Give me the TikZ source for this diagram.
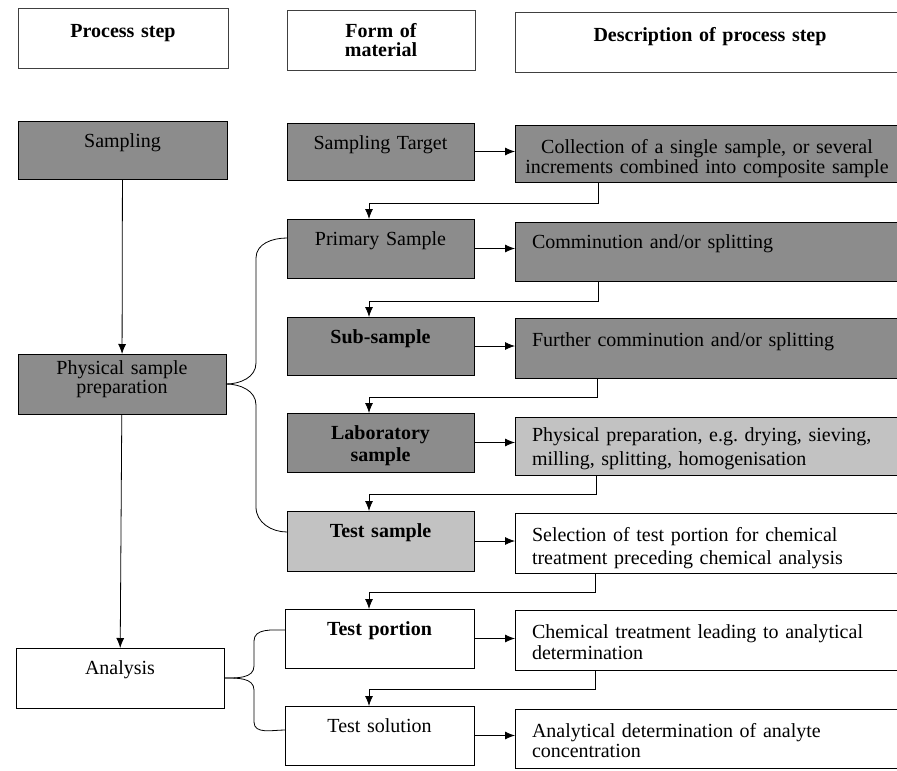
\documentclass[tikz,border=0pt]{standalone}
\usepackage{fontspec}
\setmainfont{Liberation Serif}
\usepackage{tikz}
\usetikzlibrary{arrows.meta}

\definecolor{darkfill}{gray}{0.55}
\definecolor{lightfill}{gray}{0.76}

\tikzset{
  box/.style={draw, line width=0.9pt, anchor=north west, inner ysep=0pt, inner xsep=4pt,
    outer sep=0pt, align=center, text height=26pt, font=\fontsize{20pt}{22pt}\selectfont},
  headbox/.style={box, draw=black!75, font=\fontsize{20pt}{20pt}\selectfont\bfseries},
  darkbox/.style={box, fill=darkfill},
  lightbox/.style={box, fill=lightfill},
  descbox/.style={align=left, inner xsep=17pt, text width=370pt},
  flow/.style={line width=0.8pt, -{Latex[length=10pt,width=8pt]}},
  link/.style={line width=0.8pt},
}

\begin{document}
\frenchspacing
\begin{tikzpicture}[x=1pt,y=-1pt]
    \useasboundingbox (0,0) rectangle (897,771);
    \clip (0,0) rectangle (897,771);

    % headings
    \node[headbox, text width=202pt, text height=29pt, text depth=31pt] (hps) at (18,8) {Process step};
    \node[headbox, text width=180pt, text height=27pt, text depth=33pt] (hfm) at (287,10) {Form of\\material};
    \node[headbox, text width=382pt, text height=29pt, text depth=31pt] (hdp) at (515,12) {Description of process step};

    % process steps
    \node[darkbox, text width=201pt, text depth=32pt] (samp) at (18,121) {Sampling};
    \node[darkbox, text width=200pt, text height=20pt, text depth=40pt,
          font=\fontsize{20pt}{19pt}\selectfont] (psp) at (18,354) {Physical sample\\preparation};
    \node[box, text width=200pt, text depth=34pt] (ana) at (16,648) {Analysis};

    % forms of material
    \node[darkbox, text width=179pt, text depth=31pt] (st) at (287,123) {Sampling Target};
    \node[darkbox, text width=179pt, text depth=33pt] (ps) at (287,219) {Primary Sample};
    \node[darkbox, text width=179pt, text depth=32pt, font=\fontsize{20pt}{22pt}\selectfont\bfseries] (ss) at (287,317) {Sub-sample};
    \node[darkbox, text width=179pt, text depth=33pt, font=\fontsize{20pt}{22pt}\selectfont\bfseries] (ls) at (287,413) {Laboratory\\sample};
    \node[lightbox, text width=179pt, text depth=34pt, font=\fontsize{20pt}{22pt}\selectfont\bfseries] (ts) at (287,511) {Test sample};
    \node[box, text width=181pt, text depth=33pt, font=\fontsize{20pt}{22pt}\selectfont\bfseries] (tp) at (285,609) {Test portion};
    \node[box, text width=181pt, text depth=33pt] (tsol) at (285,706) {Test solution};

    % descriptions
    \node[darkbox, text width=376pt, text height=28pt, text depth=29pt,
          font=\fontsize{20pt}{20pt}\selectfont] (d1) at (515,125)
          {Collection of a single sample, or several\\increments combined into composite sample};
    \node[darkbox, descbox, text depth=33pt] (d2) at (515,222) {Comminution and/or splitting};
    \node[darkbox, descbox, text height=28pt, text depth=32pt] (d3) at (515,318) {Further comminution and/or splitting};
    \node[lightbox, descbox, text height=24pt, text depth=34pt,
          font=\fontsize{20pt}{24pt}\selectfont] (d4) at (515,417)
          {Physical preparation, e.g. drying, sieving,\\milling, splitting, homogenisation};
    \node[box, descbox, text height=28pt, text depth=32pt,
          font=\fontsize{20pt}{23pt}\selectfont] (d5) at (515,513)
          {Selection of test portion for chemical\\treatment preceding chemical analysis};
    \node[box, descbox, text height=28pt, text depth=32pt,
          font=\fontsize{20pt}{21pt}\selectfont] (d6) at (515,610)
          {Chemical treatment leading to analytical\\determination};
    \node[box, descbox, text height=28pt, text depth=31pt,
          font=\fontsize{20pt}{20pt}\selectfont] (d7) at (515,709)
          {Analytical determination of analyte\\concentration};

    % left column
    \draw[flow] (samp) -- (psp);
    \draw[flow] (psp) -- (ana);

    % material to description
    \draw[flow] (st.east) -- (st.east -| d1.west);
    \draw[flow] (ps.east) -- (ps.east -| d2.west);
    \draw[flow] (ss.east) -- (ss.east -| d3.west);
    \draw[flow] (ls.east) -- (ls.east -| d4.west);
    \draw[flow] (ts.east) -- (ts.east -| d5.west);
    \draw[flow] (tp.east) -- (tp.east -| d6.west);
    \draw[flow] (tsol.east) -- (tsol.east -| d7.west);

    % description back to next material
    \draw[flow] ([xshift=83pt]d1.south west) |- ([xshift=82pt,yshift=16pt]ps.north west) -- ([xshift=82pt]ps.north west);
    \draw[flow] ([xshift=83pt]d2.south west) |- ([xshift=82pt,yshift=16pt]ss.north west) -- ([xshift=82pt]ss.north west);
    \draw[flow] ([xshift=82pt]d3.south west) |- ([xshift=82pt,yshift=16pt]ls.north west) -- ([xshift=82pt]ls.north west);
    \draw[flow] ([xshift=81pt]d4.south west) |- ([xshift=82pt,yshift=17pt]ts.north west) -- ([xshift=82pt]ts.north west);
    \draw[flow] ([xshift=80pt]d5.south west) |- ([xshift=84pt,yshift=17pt]tp.north west) -- ([xshift=84pt]tp.north west);
    \draw[flow] ([xshift=80pt]d6.south west) |- ([xshift=84pt,yshift=17pt]tsol.north west) -- ([xshift=84pt]tsol.north west);

    % braces
    \draw[link] (psp.east) to[out=0,in=-90] ([xshift=30pt,yshift=21pt]psp.east)
        -- ([xshift=-31pt,yshift=-39pt]ps.north west) to[out=90,in=180] ([yshift=-19pt]ps.north west);
    \draw[link] (psp.east) to[out=0,in=90] ([xshift=30pt,yshift=-21pt]psp.east)
        -- ([xshift=-31pt,yshift=4pt]ts.north west) to[out=-90,in=180] ([yshift=-21pt]ts.north west);
    \draw[link] (ana.east) to[out=0,in=-90] ([xshift=30pt,yshift=12pt]ana.east)
        -- ([xshift=-31pt,yshift=-32pt]tp.north west) to[out=90,in=180] ([yshift=-21pt]tp.north west);
    \draw[link] (ana.east) to[out=0,in=90] ([xshift=30pt,yshift=-12pt]ana.east)
        -- ([xshift=-31pt,yshift=-16pt]tsol.north west) to[out=-90,in=180] ([yshift=-24pt]tsol.north west);
\end{tikzpicture}
\end{document}
